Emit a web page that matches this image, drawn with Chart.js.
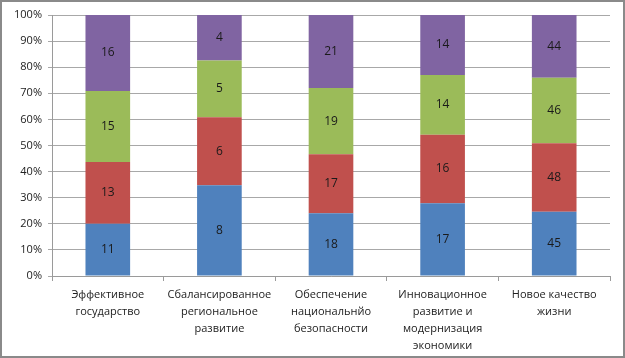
<!DOCTYPE html>
<html>
<head>
<meta charset="utf-8">
<script src="https://cdn.jsdelivr.net/npm/chart.js@4"></script>
<style>
  html, body { margin: 0; padding: 0; background: #fff; }
  #wrap { width: 625px; height: 358px; position: relative; }
</style>
</head>
<body>
<div id="wrap"><canvas id="chart" width="625" height="358"></canvas></div>
<script>
// Categories (multi-line labels)
const categories = [
    ['Эффективное', 'государство'],
    ['Сбалансированное', 'региональное', 'развитие'],
    ['Обеспечение', 'национальнйо', 'безопасности'],
    ['Инновационное', 'развитие и', 'модернизация', 'экономики'],
    ['Новое качество', 'жизни']
];

// Raw series values (stacked bottom to top)
const seriesBlue = [11, 8, 18, 17, 45];
const seriesRed = [13, 6, 17, 16, 48];
const seriesGreen = [15, 5, 19, 14, 46];
const seriesPurple = [16, 4, 21, 14, 44];

const yTicks = [0, 10, 20, 30, 40, 50, 60, 70, 80, 90, 100];

const allSeries = [seriesBlue, seriesRed, seriesGreen, seriesPurple];
const colors = ['#4F81BD', '#C0504D', '#9BBB59', '#8064A2'];

// Totals per category for 100% stacking
const totals = categories.map((c, i) => allSeries.reduce((s, arr) => s + arr[i], 0));

const datasets = allSeries.map((arr, k) => ({
    label: 'Ряд ' + (k + 1),
    data: arr.map((v, i) => v / totals[i] * 100),
    raw: arr,
    backgroundColor: colors[k],
    borderWidth: 0,
    barPercentage: 0.4,
    categoryPercentage: 1.0
}));

const fontFamily = '"Open Sans", "DejaVu Sans", sans-serif';

// Draw raw values in the middle of each segment
const valueLabels = {
    id: 'valueLabels',
    afterDatasetsDraw(chart) {
        const ctx = chart.ctx;
        ctx.save();
        ctx.font = '12px ' + fontFamily;
        ctx.fillStyle = '#1a1a1a';
        ctx.textAlign = 'center';
        ctx.textBaseline = 'middle';
        chart.data.datasets.forEach((ds, k) => {
            chart.getDatasetMeta(k).data.forEach((bar, i) => {
                const mid = (bar.y + bar.base) / 2;
                ctx.fillText(String(ds.raw[i]), bar.x, mid);
            });
        });
        ctx.restore();
    }
};

// Outer chart frame
const frame = {
    id: 'frame',
    afterDraw(chart) {
        const ctx = chart.ctx;
        ctx.save();
        ctx.strokeStyle = '#8a8a8a';
        ctx.lineWidth = 2;
        ctx.strokeRect(1, 1, chart.width - 2, chart.height - 2);
        ctx.restore();
    }
};

new Chart(document.getElementById('chart').getContext('2d'), {
    type: 'bar',
    data: { labels: categories, datasets: datasets },
    options: {
        responsive: false,
        animation: false,
        layout: { padding: { left: 0, top: 15, right: 15, bottom: 0 } },
        plugins: {
            legend: { display: false },
            tooltip: { enabled: false }
        },
        scales: {
            x: {
                stacked: true,
                afterFit(scale) { scale.height = 82; },
                border: { color: '#9a9a9a' },
                grid: { drawOnChartArea: false, drawTicks: true, tickLength: 5, color: '#9a9a9a' },
                ticks: {
                    maxRotation: 0,
                    autoSkip: false,
                    padding: 5,
                    color: '#222',
                    font: { family: fontFamily, size: 11, lineHeight: 1.55 }
                }
            },
            y: {
                stacked: true,
                min: 0,
                max: 100,
                afterFit(scale) { scale.width = 52; },
                afterBuildTicks(scale) { scale.ticks = yTicks.map(v => ({ value: v })); },
                border: { color: '#9a9a9a' },
                grid: { color: '#a8a8a8', tickLength: 4 },
                ticks: {
                    padding: 6,
                    color: '#222',
                    font: { family: fontFamily, size: 11 },
                    callback: v => v + '%'
                }
            }
        }
    },
    plugins: [valueLabels, frame]
});
</script>
</body>
</html>
